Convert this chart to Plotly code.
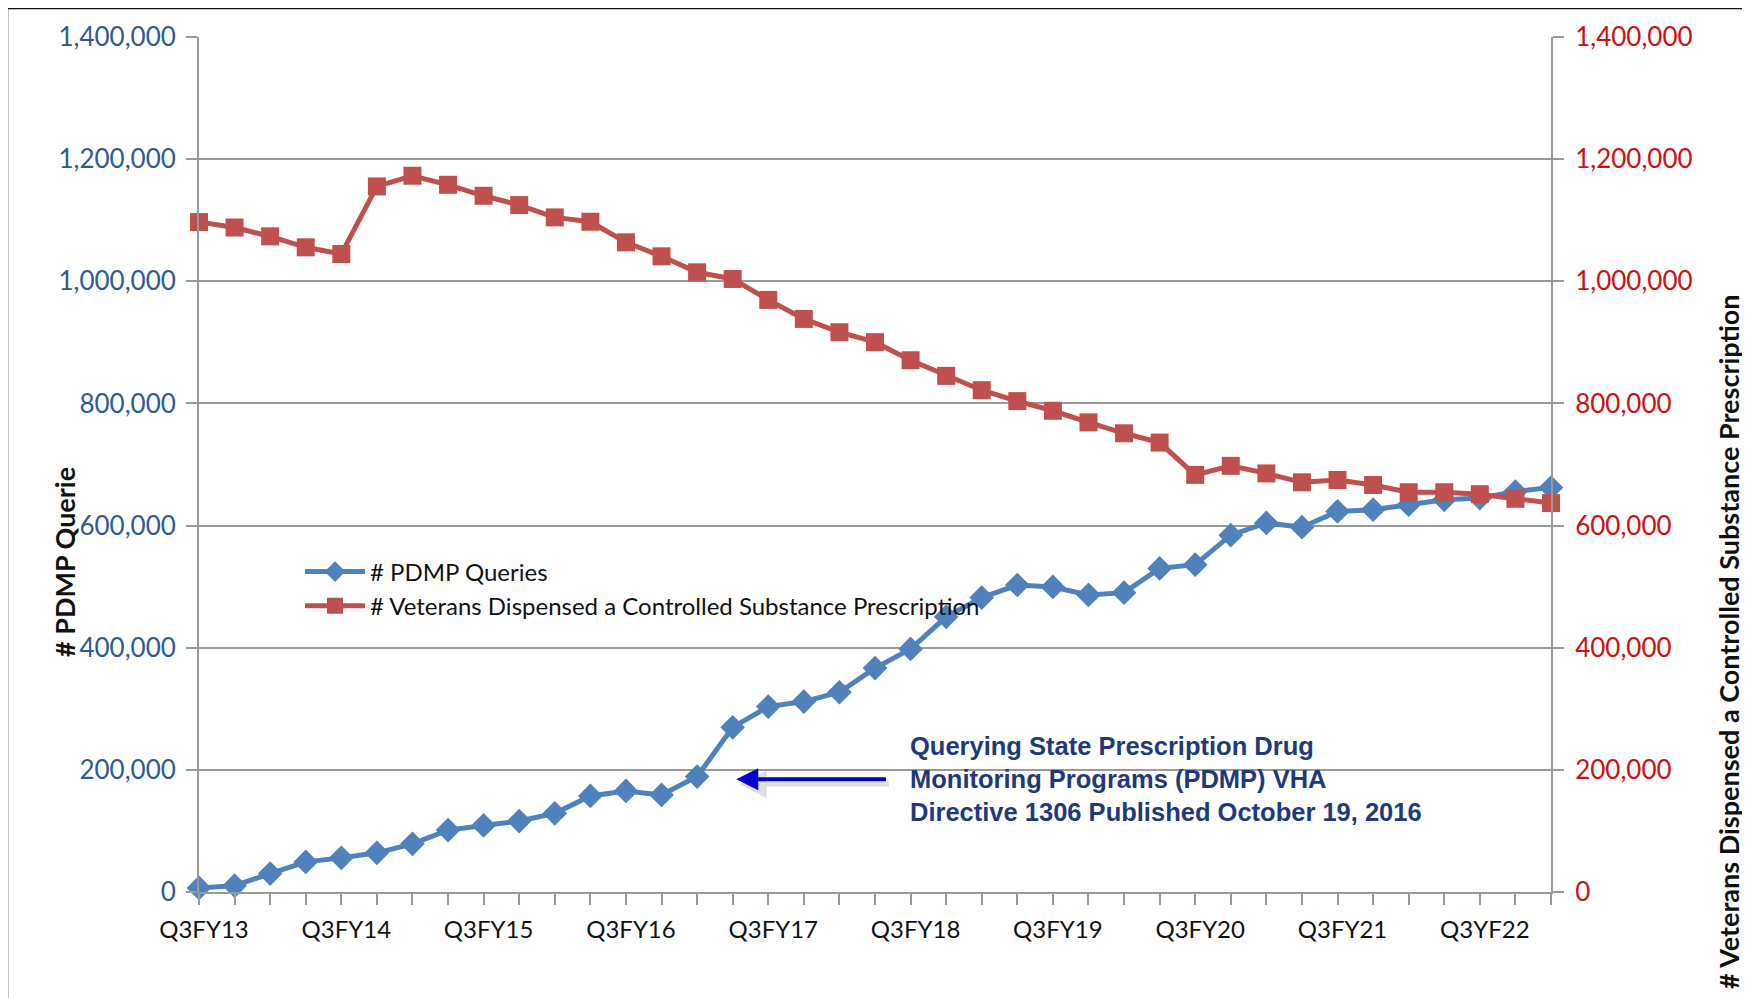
import plotly.graph_objects as go

# ---------------- data ----------------
quarters = ["Q3FY13", "Q4FY13", "Q1FY14", "Q2FY14", "Q3FY14", "Q4FY14", "Q1FY15", "Q2FY15",
            "Q3FY15", "Q4FY15", "Q1FY16", "Q2FY16", "Q3FY16", "Q4FY16", "Q1FY17", "Q2FY17",
            "Q3FY17", "Q4FY17", "Q1FY18", "Q2FY18", "Q3FY18", "Q4FY18", "Q1FY19", "Q2FY19",
            "Q3FY19", "Q4FY19", "Q1FY20", "Q2FY20", "Q3FY20", "Q4FY20", "Q1FY21", "Q2FY21",
            "Q3FY21", "Q4FY21", "Q1FY22", "Q2FY22", "Q3FY22", "Q4FY22", "Q1FY23"]

labeled_quarters = ["Q3FY13", "Q3FY14", "Q3FY15", "Q3FY16", "Q3FY17", "Q3FY18",
                    "Q3FY19", "Q3FY20", "Q3FY21", "Q3FY22"]
tick_label_text = ["Q3FY13", "Q3FY14", "Q3FY15", "Q3FY16", "Q3FY17", "Q3FY18",
                   "Q3FY19", "Q3FY20", "Q3FY21", "Q3YF22"]

pdmp_queries = [6600, 10400, 30100, 49300, 55900, 64100, 78900, 101400, 109000, 116200,
                128800, 157300, 165500, 158900, 189000, 269600, 303600, 311800, 327100, 366600,
                398000, 450500, 482100, 502700, 499500, 486400, 490200, 529900, 536000, 584300,
                604300, 597300, 623200, 626000, 634100, 642200, 645000, 655700, 662200]

veterans_dispensed = [1097000, 1088000, 1073600, 1055600, 1044700, 1155300, 1172800, 1158000,
                      1140000, 1124800, 1104600, 1097500, 1063800, 1040900, 1014700, 1003800,
                      969500, 938400, 916600, 900300, 870700, 845100, 821700, 803800, 788000,
                      769000, 751100, 735900, 683000, 697800, 685400, 670800, 674600, 666500,
                      654600, 654600, 651400, 643800, 636800]

series_names = ["# PDMP Queries", "# Veterans Dispensed a Controlled Substance Prescription"]
left_title = "# PDMP Querie"
right_title = "# Veterans Dispensed a Controlled Substance Prescription"
note_text = ("Querying State Prescription Drug<br>Monitoring Programs (PDMP) VHA<br>"
             "Directive 1306 Published October 19, 2016")
note_y = 184600

# ---------------- styles ----------------
W, H = 1750, 998
OFF = 8  # default page body margin
L, R, T, B = 191, 207, 29, 114
PW, PH = W - L - R, H - T - B


def px_x(px):  # page pixel -> paper x
    return (px - OFF - L) / PW


def px_y(py):  # page pixel -> paper y
    return (H - B - (py - OFF)) / PH


BLUE = "#4F81BD"
RED = "#C0504D"
GRID = "#9A9A9A"
TICKFONT = "Lato"

ticktext = []
for q in quarters:
    if q in labeled_quarters:
        ticktext.append(tick_label_text[labeled_quarters.index(q)])
    else:
        ticktext.append("")

fig = go.Figure()
fig.add_trace(go.Scatter(
    x=quarters, y=pdmp_queries, name=series_names[0], mode="lines+markers",
    line=dict(color=BLUE, width=5),
    marker=dict(symbol="diamond", size=19, color=BLUE),
    cliponaxis=False, legendgroup="a", yaxis="y"))
fig.add_trace(go.Scatter(
    x=quarters, y=veterans_dispensed, name=series_names[1], mode="lines+markers",
    line=dict(color=RED, width=5),
    marker=dict(symbol="square", size=18, color=RED),
    cliponaxis=False, legendgroup="b", yaxis="y2"))

fig.update_layout(
    width=W, height=H,
    margin=dict(l=L, r=R, t=T, b=B),
    paper_bgcolor="white", plot_bgcolor="white",
    showlegend=True,
    legend=dict(x=px_x(300), y=px_y(589), xanchor="left", yanchor="middle",
                bgcolor="rgba(0,0,0,0)", font=dict(family=TICKFONT, size=24, color="#111111"),
                itemwidth=60, tracegroupgap=12, traceorder="normal"),
    xaxis=dict(type="category", categoryorder="array", categoryarray=quarters,
               range=[0, len(quarters) - 1],
               tickmode="array", tickvals=quarters, ticktext=ticktext,
               ticks="outside", ticklen=11, tickwidth=1.5, tickcolor=GRID,
               ticklabelstandoff=4, ticklabelshift=5,
               showline=True, linecolor=GRID, linewidth=2,
               showgrid=False, zeroline=False,
               tickfont=dict(family=TICKFONT, size=24, color="#111111"), tickangle=0),
    yaxis=dict(range=[0, 1400000], dtick=200000, tickformat=",",
               ticks="outside", ticklen=11, tickwidth=1.5, tickcolor=GRID,
               ticklabelstandoff=5,
               showline=True, linecolor=GRID, linewidth=2,
               showgrid=True, gridcolor=GRID, gridwidth=2, zeroline=False,
               tickfont=dict(family=TICKFONT, size=26, color="#2E5C92")),
    yaxis2=dict(range=[0, 1400000], dtick=200000, tickformat=",", overlaying="y", side="right",
                ticks="outside", ticklen=11, tickwidth=1.5, tickcolor=GRID,
                ticklabelstandoff=6,
                showline=True, linecolor=GRID, linewidth=2,
                showgrid=False, zeroline=False,
                tickfont=dict(family=TICKFONT, size=26, color="#CC1111")),
)

# frame of the chart image
fig.add_shape(type="line", xref="paper", yref="paper", x0=px_x(7), x1=px_x(1780),
              y0=px_y(8), y1=px_y(8), line=dict(color="#111111", width=2.5))
fig.add_shape(type="line", xref="paper", yref="paper", x0=px_x(7), x1=px_x(7),
              y0=px_y(8), y1=px_y(1030), line=dict(color="#111111", width=2.5))

# axis titles
fig.add_annotation(text=left_title, xref="paper", yref="paper", x=px_x(64), y=px_y(562),
                   xanchor="center", yanchor="middle",
                   showarrow=False, textangle=-90,
                   font=dict(family=TICKFONT, size=27, color="#111111", weight="bold"))
fig.add_annotation(text=right_title, xref="paper", yref="paper", x=px_x(1728), y=px_y(642),
                   xanchor="center", yanchor="middle",
                   showarrow=False, textangle=-90,
                   font=dict(family=TICKFONT, size=27, color="#111111", weight="bold"))

# arrow (shadow + arrow)
head_x, tail_x = 15.1, 19.35
fig.add_annotation(x=head_x, y=note_y, ax=tail_x, ay=note_y, xref="x", yref="y",
                   axref="x", ayref="y", text="", showarrow=True, arrowhead=2,
                   arrowsize=1.1, arrowwidth=5, arrowcolor="rgba(0,0,0,0.12)",
                   xshift=3, yshift=-5)
fig.add_annotation(x=head_x, y=note_y, ax=tail_x, ay=note_y, xref="x", yref="y",
                   axref="x", ayref="y", text="", showarrow=True, arrowhead=2,
                   arrowsize=1.1, arrowwidth=4, arrowcolor="#0000CC")
fig.add_annotation(x=19.92, y=note_y, xref="x", yref="y", text=note_text, showarrow=False,
                   xanchor="left", yanchor="middle", align="left",
                   font=dict(family="Liberation Sans", size=25.5, color="#1F3A7A", weight="bold"))

fig.write_html("out.html")
